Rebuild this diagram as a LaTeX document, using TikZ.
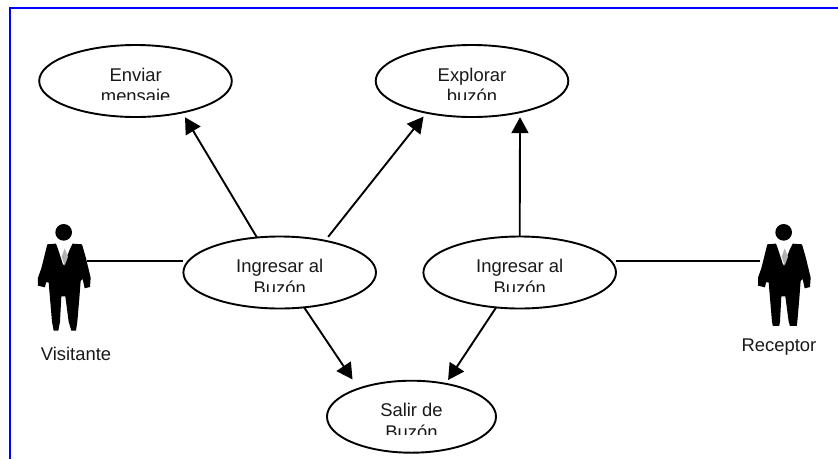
\documentclass[tikz,border=0pt]{standalone}
\usepackage{fontspec}
\setmainfont{Liberation Sans}
\usetikzlibrary{shapes.geometric,arrows.meta}
\newcommand{\personafig}{%
  \fill[black] (101,52) circle (25);
  \fill[black] (52,88) -- (78,86) -- (84,102) -- (100,152) -- (120,102) -- (128,86) -- (156,88)
    -- (168,130) -- (182,188) -- (180,216) -- (164,220) -- (158,192) -- (152,198) -- (148,250)
    -- (142,320) -- (138,347) -- (124,347) -- (116,320) -- (106,244) -- (94,244) -- (90,320)
    -- (85,347) -- (71,347) -- (66,320) -- (60,250) -- (56,202) -- (48,202) -- (45,217) -- (24,212)
    -- (24,188) -- (34,160) -- (44,120) -- cycle;
  \fill[black!30] (104,100) -- (114,125) -- (104,152) -- (95,125) -- cycle;
}
\newcommand{\cuerpo}[5]{% x, baseline, clip y, line 1, line 2
  \begin{scope}
    \clip (#1-60,#2-20) rectangle (#1+60,#3);
    \node[txt] at (#1,#2) {\begin{tabular}[t]{@{}c@{}}#4\\#5\end{tabular}};
  \end{scope}
}
\tikzset{
  caso/.style={draw,ellipse,line width=1.9pt,inner sep=0pt,outer sep=0pt,minimum width=192.6pt,minimum height=72pt},
  txt/.style={anchor=base,inner sep=0pt,outer sep=0pt,text=black!90,font=\fontsize{18.4}{21.5}\selectfont},
  linea/.style={line width=1.9pt},
  flecha/.style={line width=1.9pt,-{Triangle[length=16pt,width=17pt]}},
  marco/.style={draw=blue,line width=2.4pt}
}
\begin{document}
\begin{tikzpicture}[x=1pt,y=-1pt]
\useasboundingbox (0,0) rectangle (838,459);
\fill[white] (0,0) rectangle (838,459);
\draw[marco] (838,8.2) -- (10,8.2) -- (10,459);

\node[caso] (env) at (135.5,81) {};
\node[caso] (exp) at (472,81) {};
\node[caso] (ing1) at (279.7,272.5) {};
\node[caso] (ing2) at (519.7,272.5) {};
\node[caso,minimum width=169pt] (sal) at (411.5,416.7) {};

\cuerpo{135.7}{81}{99}{Enviar}{mensaje}
\cuerpo{472}{81}{99.3}{Explorar}{buzón}
\cuerpo{279.7}{272.7}{291}{Ingresar al}{Buzón}
\cuerpo{519.7}{272.7}{291}{Ingresar al}{Buzón}
\cuerpo{411.5}{416.7}{434}{Salir de}{Buzón}

\begin{scope}[shift={(30,215)},x=.3333pt,y=-.3333pt]
  \personafig
\end{scope}
\begin{scope}
  \clip (740,200) rectangle (830,325);
  \begin{scope}[shift={(750,215)},x=.3333pt,y=-.3333pt]
    \personafig
  \end{scope}
\end{scope}
\coordinate (vis) at (87,261);
\coordinate (rec) at (760,261);
\node[anchor=base,inner sep=0pt,font=\fontsize{18.4}{20.5}\selectfont,text=black!90] (visl) at (76,360) {Visitante};
\node[anchor=base,inner sep=0pt,font=\fontsize{18.4}{20.5}\selectfont,text=black!90] (recl) at (779,351.7) {Receptor};

\draw[linea] (vis) -- (ing1.west |- vis);
\draw[linea] (ing2.east |- rec) -- (rec);
\draw[flecha,shorten >=5.5pt] (ing1.123.7) -- (env.-34.8);
\draw[flecha,shorten <=5pt,shorten >=5pt] (ing1.35.8) -- (exp.215.2);
\draw[flecha,shorten >=5pt] (ing2.90) -- (exp.-33.3);
\draw[flecha,shorten >=11pt] (ing1.-55.1) -- (sal.152.9);
\draw[flecha,shorten >=4.5pt] (ing2.-124.2) -- (sal.44.4);
\end{tikzpicture}
\end{document}
